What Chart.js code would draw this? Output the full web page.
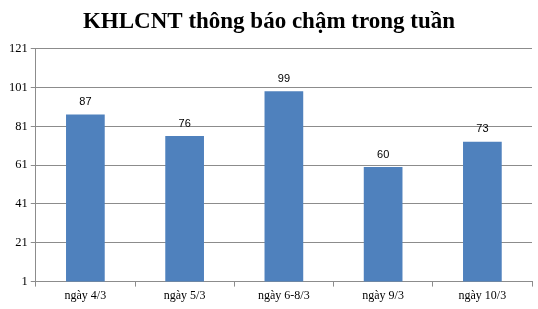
<!DOCTYPE html>
<html>
<head>
<meta charset="utf-8">
<script src="https://cdn.jsdelivr.net/npm/chart.js@4"></script>
<style>
  html, body { margin: 0; padding: 0; background: #fff; }
  #wrap { width: 538px; height: 309px; }
</style>
</head>
<body>
<div id="wrap"><canvas id="chart"></canvas></div>
<script>
const categories = ['ngày 4/3', 'ngày 5/3', 'ngày 6-8/3', 'ngày 9/3', 'ngày 10/3'];
const values = [87, 76, 99, 60, 73];
const yTicks = [1, 21, 41, 61, 81, 101, 121];

const barColor = '#4f81bd';
const gridColor = '#8c8c8c';
const serif = '"Liberation Serif", "Times New Roman", serif';

const valueLabels = {
  id: 'valueLabels',
  afterDatasetsDraw(chart) {
    const ctx = chart.ctx;
    const meta = chart.getDatasetMeta(0);
    ctx.save();
    ctx.font = '11px "Liberation Sans", Arial, sans-serif';
    ctx.fillStyle = '#000';
    ctx.textAlign = 'center';
    ctx.textBaseline = 'bottom';
    meta.data.forEach((bar, i) => {
      ctx.fillText(values[i], bar.x, bar.y - 7);
    });
    ctx.restore();
  },
};

const ctx = document.getElementById('chart').getContext('2d');
new Chart(ctx, {
  type: 'bar',
  data: {
    labels: categories,
    datasets: [{
      data: values,
      backgroundColor: barColor,
      borderWidth: 0,
      barPercentage: 0.39,
      categoryPercentage: 1,
    }],
  },
  options: {
    responsive: true,
    maintainAspectRatio: false,
    animation: false,
    layout: { padding: { left: 6, right: 6, top: 0, bottom: 4 } },
    scales: {
      x: {
        offset: true,
        grid: {
          offset: true,
          drawOnChartArea: false,
          drawTicks: true,
          tickLength: 5,
          color: gridColor,
        },
        border: { color: gridColor },
        ticks: { color: '#000', font: { family: serif, size: 12 }, padding: 2 },
      },
      y: {
        min: 1,
        max: 121,
        afterBuildTicks(scale) {
          scale.ticks = yTicks.map(v => ({ value: v }));
        },
        grid: { color: gridColor, tickLength: 5 },
        border: { color: gridColor },
        ticks: { color: '#000', font: { family: serif, size: 12.5 }, padding: 3 },
      },
    },
    plugins: {
      legend: { display: false },
      tooltip: { enabled: false },
      title: {
        display: true,
        text: 'KHLCNT thông báo chậm trong tuần',
        color: '#000',
        font: { family: serif, size: 23, weight: 'bold' },
        padding: { top: 8, bottom: 13 },
      },
    },
  },
  plugins: [valueLabels],
});
</script>
</body>
</html>
